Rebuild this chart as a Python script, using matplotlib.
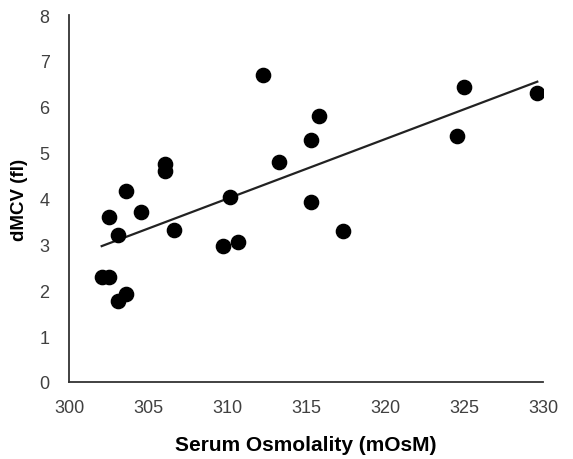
import numpy as np
import matplotlib
matplotlib.use("Agg")
import matplotlib.pyplot as plt

# Serum osmolality (mOsM) vs dMCV (fl)
osmolality = [302.07, 302.55, 302.53, 303.10, 303.10, 303.59, 303.59, 304.56,
              306.09, 306.09, 306.66, 309.73, 310.22, 310.72, 312.26, 313.29,
              315.32, 315.32, 315.82, 317.32, 324.54, 325.02, 329.64]
dmcv = [2.29, 2.29, 3.59, 3.20, 1.77, 1.92, 4.16, 3.71,
        4.75, 4.61, 3.32, 2.97, 4.04, 3.06, 6.69, 4.79,
        5.27, 3.93, 5.79, 3.29, 5.37, 6.44, 6.30]

x_ticks = [300, 305, 310, 315, 320, 325, 330]
y_ticks = [0, 1, 2, 3, 4, 5, 6, 7, 8]

plt.rcParams['font.family'] = ['Liberation Sans', 'DejaVu Sans']

fig = plt.figure(figsize=(5.73, 4.60), dpi=100)
ax = fig.add_axes([0.1204, 0.1674, 0.8272, 0.7978])

ax.scatter(osmolality, dmcv, s=105, color='black', zorder=3)

# linear trendline
x = np.array(osmolality)
slope, intercept = np.polyfit(x, np.array(dmcv), 1)
xs = np.array([x.min(), x.max()])
ax.plot(xs, slope * xs + intercept, color='#222222', linewidth=1.6, zorder=2)

ax.set_xlim(300, 330)
ax.set_ylim(0, 8)
ax.set_xticks(x_ticks)
ax.set_yticks(y_ticks)
ax.tick_params(length=0, labelsize=13, colors='#404040', pad=12)
ax.tick_params(axis='y', pad=14)

for side in ['top', 'right']:
    ax.spines[side].set_visible(False)
for side in ['left', 'bottom']:
    ax.spines[side].set_color('#333333')
    ax.spines[side].set_linewidth(1.3)

ax.set_xlabel('Serum Osmolality (mOsM)', fontsize=15, fontweight='bold', labelpad=14)
ax.set_ylabel('dMCV (fl)', fontsize=13.5, fontweight='bold', labelpad=8)

fig.savefig('out.png', dpi=100)
